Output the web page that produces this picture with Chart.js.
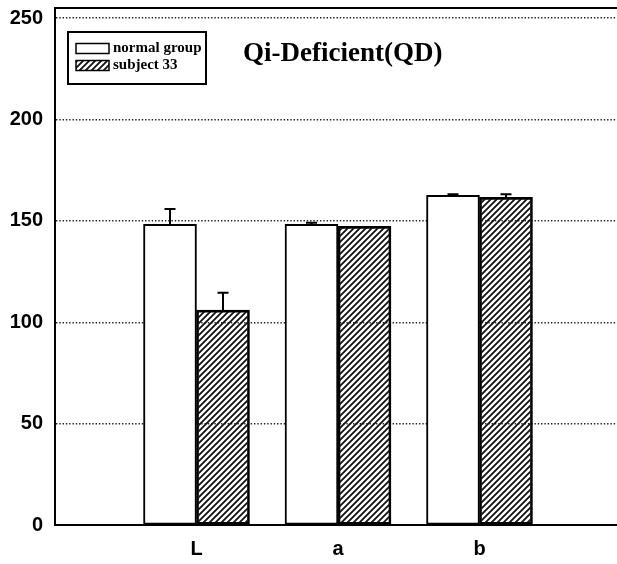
<!DOCTYPE html>
<html>
<head>
<meta charset="utf-8">
<script src="https://cdn.jsdelivr.net/npm/chart.js@4.4.1/dist/chart.umd.min.js"></script>
<style>
  html, body { margin: 0; padding: 0; background: #fff; overflow: hidden; width: 617px; height: 564px; }
  #wrap { position: relative; width: 621px; height: 564px; }
</style>
</head>
<body>
<div id="wrap"><canvas id="chart" width="621" height="564"></canvas></div>
<script>
// Categories and series values
const categories = ['L', 'a', 'b'];
const seriesNames = ['normal group', 'subject 33'];
const normalGroup = [148.3, 148.3, 162.6];
const normalGroupErr = [7.5, 0.8, 0.5];
const subject33 = [106.0, 147.3, 161.6];
const subject33Err = [8.5, 0, 1.5];
const yTicks = [0, 50, 100, 150, 200, 250];
const titleText = 'Qi-Deficient(QD)';

// Empty slots on both sides of the three groups
const labels = ['', ...categories, ''];
const pad = arr => [null, ...arr, null];

const canvas = document.getElementById('chart');
const ctx = canvas.getContext('2d');

// Diagonal hatch fill
function makeHatch(c2d) {
  const s = 6;
  const tile = document.createElement('canvas');
  tile.width = s; tile.height = s;
  const g = tile.getContext('2d');
  g.strokeStyle = '#111';
  g.lineWidth = 1.8;
  g.beginPath();
  g.moveTo(-1, s + 1); g.lineTo(s + 1, -1);
  g.moveTo(-1, 1); g.lineTo(1, -1);
  g.moveTo(s - 1, s + 1); g.lineTo(s + 1, s - 1);
  g.stroke();
  return c2d.createPattern(tile, 'repeat');
}
const hatch = makeHatch(ctx);

const errors = [pad(normalGroupErr), pad(subject33Err)];

// Upward error bars with caps
const errorBars = {
  id: 'errorBars',
  afterDatasetsDraw(chart) {
    const c = chart.ctx;
    const y = chart.scales.y;
    c.save();
    c.strokeStyle = '#000';
    c.lineWidth = 2;
    chart.data.datasets.forEach((ds, di) => {
      const meta = chart.getDatasetMeta(di);
      meta.data.forEach((el, i) => {
        const v = ds.data[i];
        const e = errors[di][i];
        if (v == null || !e) return;
        const top = y.getPixelForValue(v + e);
        c.beginPath();
        c.moveTo(el.x, el.y);
        c.lineTo(el.x, top);
        c.moveTo(el.x - 5.5, top);
        c.lineTo(el.x + 5.5, top);
        c.stroke();
      });
    });
    c.restore();
  }
};

// Top frame line, title and boxed legend
const decorations = {
  id: 'decorations',
  afterDraw(chart) {
    const c = chart.ctx;
    const a = chart.chartArea;
    c.save();
    c.strokeStyle = '#000';
    c.lineWidth = 2;
    c.beginPath();
    c.moveTo(a.left - 1, a.top);
    c.lineTo(a.right, a.top);
    c.stroke();

    // title
    c.fillStyle = '#000';
    c.font = 'bold 27px "Liberation Serif"';
    c.textBaseline = 'alphabetic';
    c.textAlign = 'left';
    c.fillText(titleText, 243, 61);

    // legend box
    const lx = a.left + 13, ly = a.top + 24;
    c.lineWidth = 2;
    c.strokeRect(lx, ly, 138, 52);
    chart.data.datasets.forEach((ds, i) => {
      const sy = ly + 11.5 + i * 17;
      c.fillStyle = '#fff';
      c.fillRect(lx + 8, sy, 33, 10);
      c.fillStyle = ds.backgroundColor;
      c.fillRect(lx + 8, sy, 33, 10);
      c.lineWidth = 1.5;
      c.strokeStyle = '#000';
      c.strokeRect(lx + 8, sy, 33, 10);
      c.fillStyle = '#000';
      c.font = 'bold 15px "Liberation Serif"';
      c.fillText(ds.label, lx + 45, sy + 8.5);
    });
    c.restore();
  }
};

const tickFont = { family: '"Liberation Sans", Arial, sans-serif', weight: 'bold', size: 20 };

new Chart(ctx, {
  type: 'bar',
  data: {
    labels: labels,
    datasets: [
      {
        label: seriesNames[0],
        data: pad(normalGroup),
        backgroundColor: '#fff',
        borderColor: '#000',
        borderWidth: 2,
        borderSkipped: false,
        barThickness: 53
      },
      {
        label: seriesNames[1],
        data: pad(subject33),
        backgroundColor: hatch,
        borderColor: '#000',
        borderWidth: 2,
        borderSkipped: false,
        barThickness: 53
      }
    ]
  },
  options: {
    responsive: false,
    animation: false,
    devicePixelRatio: 1,
    layout: { padding: { top: 8, left: 0, right: 0, bottom: 0 } },
    plugins: {
      legend: { display: false },
      tooltip: { enabled: false }
    },
    scales: {
      x: {
        type: 'category',
        offset: false,
        grid: { display: false, drawTicks: false },
        border: { display: true, color: '#000', width: 2 },
        ticks: {
          color: '#000',
          font: tickFont,
          padding: 12,
          autoSkip: false,
          maxRotation: 0
        },
        afterFit(scale) {
          scale.height = 39;
          scale.paddingLeft = 0;
          scale.paddingRight = 0;
        }
      },
      y: {
        min: 0,
        max: 255,
        afterBuildTicks(scale) {
          scale.ticks = yTicks.map(v => ({ value: v }));
        },
        grid: { color: '#222', lineWidth: 1.4, drawTicks: false },
        border: { display: true, color: '#000', width: 2, dash: [1.4, 1.9] },
        ticks: {
          color: '#000',
          font: tickFont,
          padding: 12
        },
        afterFit(scale) {
          scale.width = 55;
          scale.paddingTop = 0;
          scale.paddingBottom = 0;
        }
      }
    }
  },
  plugins: [errorBars, decorations]
});
</script>
</body>
</html>
